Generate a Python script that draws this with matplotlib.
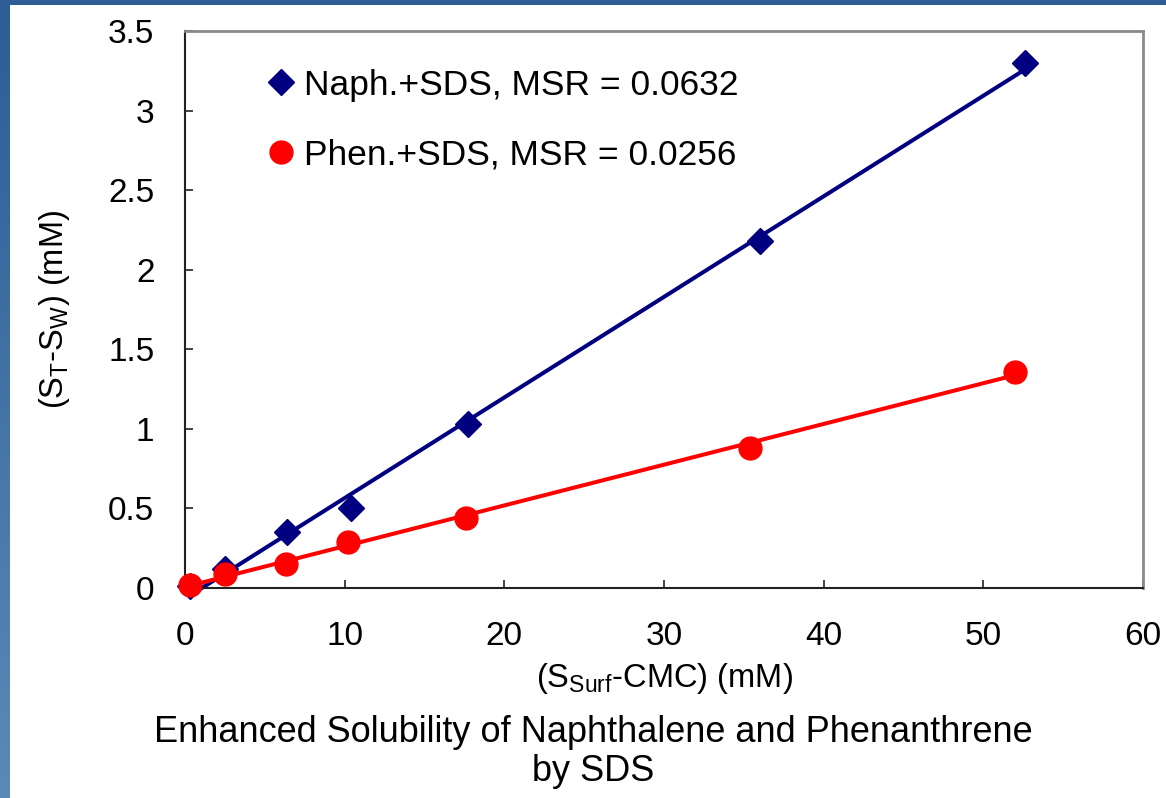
import matplotlib
matplotlib.use("Agg")
import matplotlib.pyplot as plt
import numpy as np
from matplotlib.patches import Rectangle
from matplotlib.colors import LinearSegmentedColormap

plt.rcParams["font.family"] = ["Liberation Sans", "DejaVu Sans"]
plt.rcParams["mathtext.fontset"] = "custom"
plt.rcParams["mathtext.rm"] = "Liberation Sans"
plt.rcParams["mathtext.it"] = "Liberation Sans"

# surfactant concentration above CMC (mM) vs. solubility increase (mM)
naph_x = [0.3, 2.5, 6.4, 10.4, 17.7, 36.0, 52.6]
naph_y = [0.01, 0.12, 0.35, 0.50, 1.03, 2.18, 3.30]
phen_x = [0.3, 2.5, 6.3, 10.2, 17.6, 35.4, 52.0]
phen_y = [0.02, 0.09, 0.15, 0.29, 0.44, 0.88, 1.36]

# molar solubilization ratios (slopes of the fitted lines)
naph_msr = 0.0632
phen_msr = 0.0256

x_ticks = [0, 10, 20, 30, 40, 50, 60]
y_ticks = [0, 0.5, 1, 1.5, 2, 2.5, 3, 3.5]

NAVY = "#000080"
RED = "#ff0000"

fig = plt.figure(figsize=(11.66, 7.98), dpi=100)

# slide background: blue gradient with a white content area
bg = fig.add_axes([0, 0, 1, 1], zorder=-10)
blue = LinearSegmentedColormap.from_list("slide", ["#2c5d95", "#5a8ab7"])
grad = np.linspace(0, 1, 256).reshape(-1, 1)
bg.imshow(grad, aspect="auto", cmap=blue, extent=[0, 1, 0, 1], origin="upper")
bg.add_patch(Rectangle((10 / 1166, 0), 1, 1 - 5 / 798, facecolor="white",
                       edgecolor="none", transform=bg.transAxes))
bg.set_xlim(0, 1)
bg.set_ylim(0, 1)
bg.axis("off")

ax = fig.add_axes([185 / 1166, 210 / 798, 958 / 1166, 557 / 798])
ax.set_facecolor("white")


def fit_line(xs, ys, slope):
    xs = np.asarray(xs)
    ys = np.asarray(ys)
    b = ys.mean() - slope * xs.mean()
    xx = np.array([xs.min(), xs.max()])
    return xx, slope * xx + b


lx, ly = fit_line(naph_x, naph_y, naph_msr)
ax.plot(lx, ly, color=NAVY, lw=2.9, zorder=2, clip_on=False)
lx, ly = fit_line(phen_x, phen_y, phen_msr)
ax.plot(lx, ly, color=RED, lw=2.9, zorder=2, clip_on=False)

ax.plot(naph_x, naph_y, ls="none", marker="D", ms=13, color=NAVY, zorder=3,
        clip_on=False, label=f"Naph.+SDS, MSR = {naph_msr}")
ax.plot(phen_x, phen_y, ls="none", marker="o", ms=16.5, color=RED, zorder=4,
        clip_on=False, label=f"Phen.+SDS, MSR = {phen_msr}")

ax.set_xlim(0, 60)
ax.set_ylim(0, 3.5)
ax.set_xticks(x_ticks)
ax.set_yticks(y_ticks)
ax.set_yticklabels([f"{v:g}" for v in y_ticks])
ax.tick_params(direction="in", length=6, width=1.2, labelsize=24,
               color="#222222")
ax.tick_params(axis="x", pad=24)
ax.tick_params(axis="y", pad=22)

for side in ("left", "bottom"):
    ax.spines[side].set_color("#222222")
    ax.spines[side].set_linewidth(1.5)
for side in ("top", "right"):
    ax.spines[side].set_color("#8a8a8a")
    ax.spines[side].set_linewidth(2)

ax.set_xlabel(r"(S$_{\mathrm{Surf}}$-CMC) (mM)", fontsize=23.5, labelpad=6)
ax.set_ylabel(r"(S$_{\mathrm{T}}$-S$_{\mathrm{W}}$) (mM)", fontsize=23.5,
              labelpad=26)

ax.legend(loc="upper left", bbox_to_anchor=(0.072, 0.958), frameon=False,
          fontsize=25.5, handlelength=0.75, handletextpad=0.25,
          labelspacing=1.05, borderaxespad=0)

fig.text(593 / 1166, 1 - 752 / 798,
         "Enhanced Solubility of Naphthalene and Phenanthrene\nby SDS",
         ha="center", va="center", fontsize=26, linespacing=1.18)

fig.savefig("out.png", dpi=100)
